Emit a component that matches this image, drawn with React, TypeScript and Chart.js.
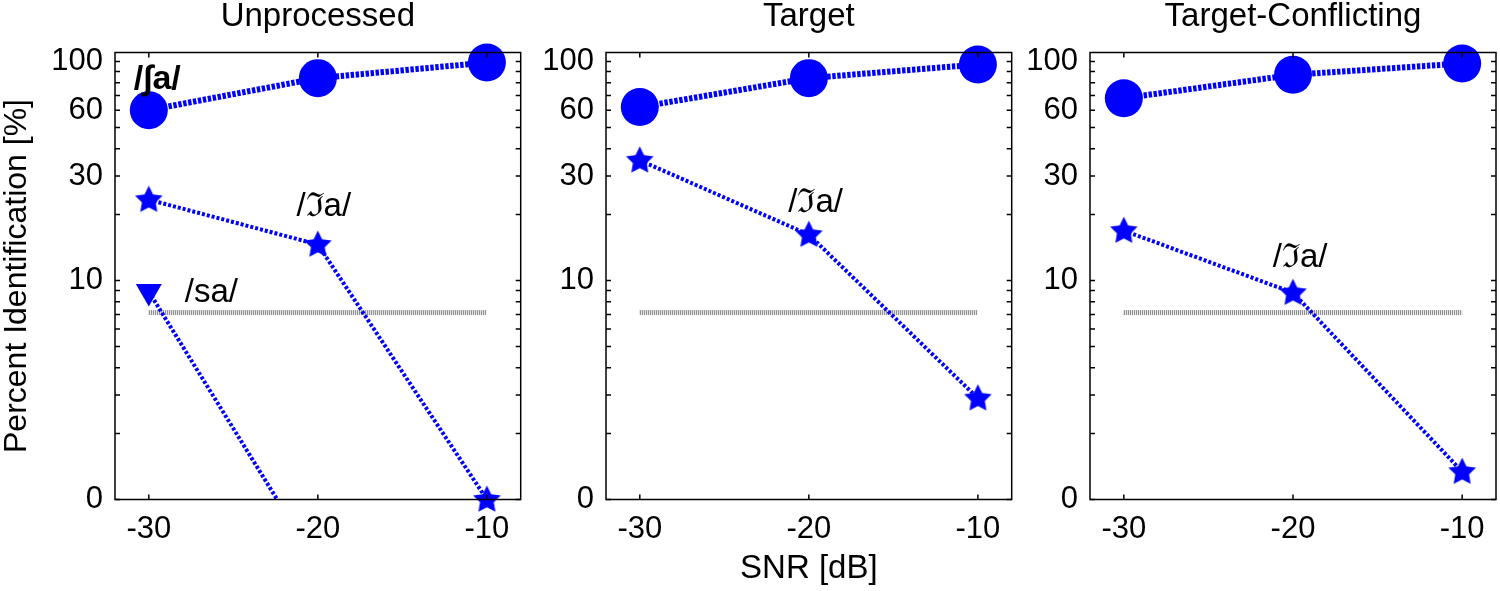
import React, { useEffect, useRef } from 'react';
import { Chart, registerables } from 'chart.js';

Chart.register(...registerables);

// ---------- data ----------
const SNR = [-30, -20, -10];
const X_TICKS = [-30, -20, -10];
const Y_TICKS = [1, 2, 3, 4, 5, 6, 7, 8, 9, 10, 20, 30, 40, 50, 60, 70, 80, 90, 100];
const Y_LABELED = [1, 10, 30, 60, 100];
const Y_LABEL_TEXT = ['0', '10', '30', '60', '100'];
const PANEL_TITLES = ['Unprocessed', 'Target', 'Target-Conflicting'];

// percent identification (the "0" level is drawn at the axis floor)
const UNPROC_SH = [60, 84, 99];
const UNPROC_ZH = [23.4, 14.6, 1];
const UNPROC_S = [8.9, 0.5, 0.5];
const TARGET_SH = [62, 84, 97];
const TARGET_ZH = [35.4, 16.2, 2.9];
const CONFL_SH = [68, 87, 98];
const CONFL_ZH = [16.9, 8.8, 1.34];
const CHANCE_X = [-30, -10];
const CHANCE = [7.14, 7.14];

// ---------- styling ----------
const BLUE = '#0000ff';
const FONT = "'Liberation Sans', Arial, Helvetica, sans-serif";

function makeStar(R: number, ratio: number, color: string) {
  const size = Math.ceil(2 * R + 4);
  const c = document.createElement('canvas');
  c.width = size;
  c.height = size;
  const ctx = c.getContext('2d')!;
  ctx.fillStyle = color;
  ctx.beginPath();
  for (let i = 0; i < 10; i++) {
    const r = i % 2 === 0 ? R : R * ratio;
    const a = -Math.PI / 2 + (i * Math.PI) / 5;
    const px = size / 2 + r * Math.cos(a);
    const py = size / 2 + r * Math.sin(a) + 0.6;
    if (i === 0) ctx.moveTo(px, py);
    else ctx.lineTo(px, py);
  }
  ctx.closePath();
  ctx.fill();
  return c;
}

const pts = (xs: number[], ys: number[]) => xs.map((x, i) => ({ x, y: ys[i] }));

function circleDs(values: number[]) {
  return {
    data: pts(SNR, values),
    borderColor: BLUE,
    backgroundColor: BLUE,
    borderWidth: 6,
    borderDash: [3.4, 1.6],
    pointStyle: 'circle',
    pointRadius: 19,
    pointBorderWidth: 0,
    pointBackgroundColor: BLUE,
    clip: false as any,
    order: 1,
  };
}

function starDs(values: number[], star: HTMLCanvasElement) {
  return {
    data: pts(SNR, values),
    borderColor: BLUE,
    backgroundColor: BLUE,
    borderWidth: 4,
    borderDash: [3, 2],
    pointStyle: star,
    pointRadius: 14,
    clip: false as any,
    order: 1,
  };
}

function triDs(values: number[]) {
  return {
    data: pts(SNR, values),
    borderColor: BLUE,
    backgroundColor: BLUE,
    borderWidth: 4,
    borderDash: [3, 2],
    pointStyle: 'triangle',
    pointRotation: 180,
    pointRadius: 15,
    pointBorderWidth: 0,
    pointBackgroundColor: BLUE,
    clip: 0 as any,
    order: 1,
  };
}

function chanceDs() {
  return {
    data: pts(CHANCE_X, CHANCE),
    borderColor: '#7a7a7a',
    borderWidth: 5,
    borderDash: [1, 1],
    pointRadius: 0,
    clip: false as any,
    order: 5,
  };
}

const framePlugin = {
  id: 'frameTicks',
  afterDraw(chart: any) {
    const { ctx, chartArea: a, scales } = chart;
    const len = 5;
    ctx.save();
    ctx.strokeStyle = '#000';
    ctx.lineWidth = 1.5;
    ctx.setLineDash([]);
    ctx.beginPath();
    scales.y.ticks.forEach((t: any) => {
      const p = scales.y.getPixelForValue(t.value);
      ctx.moveTo(a.left, p);
      ctx.lineTo(a.left + len, p);
      ctx.moveTo(a.right, p);
      ctx.lineTo(a.right - len, p);
    });
    scales.x.ticks.forEach((t: any) => {
      const p = scales.x.getPixelForValue(t.value);
      ctx.moveTo(p, a.bottom);
      ctx.lineTo(p, a.bottom - len);
      ctx.moveTo(p, a.top);
      ctx.lineTo(p, a.top + len);
    });
    ctx.stroke();
    ctx.strokeRect(a.left, a.top, a.right - a.left, a.bottom - a.top);
    ctx.restore();
  },
};

const textPlugin = {
  id: 'phonemeLabels',
  afterDatasetsDraw(chart: any, _args: any, opts: any) {
    const items = (opts && opts.items) || [];
    const { ctx, scales } = chart;
    ctx.save();
    ctx.fillStyle = '#000';
    ctx.textAlign = 'center';
    ctx.textBaseline = 'middle';
    items.forEach((it: any) => {
      ctx.font = `${it.bold ? 'bold 34px' : '33px'} ${FONT}`;
      ctx.fillText(it.text, scales.x.getPixelForValue(it.x), scales.y.getPixelForValue(it.y));
    });
    ctx.restore();
  },
};

type PanelCfg = {
  left: number;
  width: number;
  yAxisWidth: number;
  padRight: number;
  title: string;
  yTitle?: string;
  xTitle?: string;
  datasets: () => any[];
  labels: { text: string; x: number; y: number; bold?: boolean }[];
};

function Panel({ cfg }: { cfg: PanelCfg }) {
  const ref = useRef<HTMLCanvasElement>(null);
  useEffect(() => {
    const chart = new Chart(ref.current!, {
      type: 'line',
      data: { datasets: cfg.datasets() },
      plugins: [framePlugin, textPlugin],
      options: {
        animation: false,
        responsive: false,
        maintainAspectRatio: false,
        events: [],
        layout: { autoPadding: false, padding: { left: 0, right: cfg.padRight, top: 0, bottom: 0 } },
        plugins: {
          legend: { display: false },
          tooltip: { enabled: false },
          title: {
            display: true,
            text: cfg.title,
            fullSize: false,
            color: '#000',
            font: { family: FONT, size: 33, weight: 'normal', lineHeight: 1 },
            padding: { top: 0, bottom: 19.5 },
          },
          phonemeLabels: { items: cfg.labels },
        } as any,
        scales: {
          x: {
            type: 'linear',
            min: -32,
            max: -8,
            grid: { display: false, drawTicks: false },
            border: { display: false },
            afterBuildTicks: (s: any) => {
              s.ticks = X_TICKS.map((v) => ({ value: v }));
            },
            afterFit: (s: any) => {
              s.height = 91.5;
              s.paddingLeft = 0;
              s.paddingRight = 0;
            },
            ticks: {
              color: '#000',
              padding: 11,
              autoSkip: false,
              maxRotation: 0,
              font: { family: FONT, size: 31 },
              callback: (v: any) => String(v),
            },
            title: {
              display: !!cfg.xTitle,
              text: cfg.xTitle || '',
              color: '#000',
              font: { family: FONT, size: 33, lineHeight: 1.1 },
              padding: { top: 0, bottom: 4 },
            },
          },
          y: {
            type: 'logarithmic',
            min: 1,
            max: 110,
            grid: { display: false, drawTicks: false },
            border: { display: false },
            afterBuildTicks: (s: any) => {
              s.ticks = Y_TICKS.map((v) => ({ value: v }));
            },
            afterFit: (s: any) => {
              s.width = cfg.yAxisWidth;
              s.paddingTop = 0;
              s.paddingBottom = 0;
            },
            ticks: {
              color: '#000',
              padding: 12,
              autoSkip: false,
              font: { family: FONT, size: 31 },
              callback: (v: any) => {
                const i = Y_LABELED.indexOf(Number(v));
                return i >= 0 ? Y_LABEL_TEXT[i] : '';
              },
            },
            title: {
              display: !!cfg.yTitle,
              text: cfg.yTitle || '',
              color: '#000',
              font: { family: FONT, size: 32, lineHeight: 1.1 },
              padding: { top: 0, bottom: 0 },
            },
          },
        },
      } as any,
    });
    return () => chart.destroy();
  }, []);
  return (
    <canvas
      ref={ref}
      width={cfg.width}
      height={591}
      style={{ position: 'absolute', left: cfg.left, top: 0, width: cfg.width, height: 591 }}
    />
  );
}

const STAR = () => makeStar(14.5, 0.5, BLUE);

const PANELS: PanelCfg[] = [
  {
    left: 0,
    width: 540,
    yAxisWidth: 115,
    padRight: 19.3,
    title: PANEL_TITLES[0],
    yTitle: 'Percent Identification [%]',
    datasets: () => [circleDs(UNPROC_SH), starDs(UNPROC_ZH, STAR()), triDs(UNPROC_S), chanceDs()],
    labels: [
      { text: '/∫a/', x: -29.5, y: 82.8, bold: true },
      { text: '/ℑa/', x: -19.65, y: 21.8 },
      { text: '/sa/', x: -26.3, y: 8.78 },
    ],
  },
  {
    left: 540,
    width: 475,
    yAxisWidth: 66,
    padRight: 3.3,
    title: PANEL_TITLES[1],
    xTitle: 'SNR [dB]',
    datasets: () => [circleDs(TARGET_SH), starDs(TARGET_ZH, STAR()), chanceDs()],
    labels: [{ text: '/ℑa/', x: -19.6, y: 22.7 }],
  },
  {
    left: 1015,
    width: 485,
    yAxisWidth: 75,
    padRight: 4,
    title: PANEL_TITLES[2],
    datasets: () => [circleDs(CONFL_SH), starDs(CONFL_ZH, STAR()), chanceDs()],
    labels: [{ text: '/ℑa/', x: -19.58, y: 12.7 }],
  },
];

export default function App() {
  return (
    <div style={{ position: 'absolute', left: 0, top: 0, width: 1500, height: 591, background: '#fff' }}>
      {PANELS.map((p, i) => (
        <Panel key={i} cfg={p} />
      ))}
    </div>
  );
}
